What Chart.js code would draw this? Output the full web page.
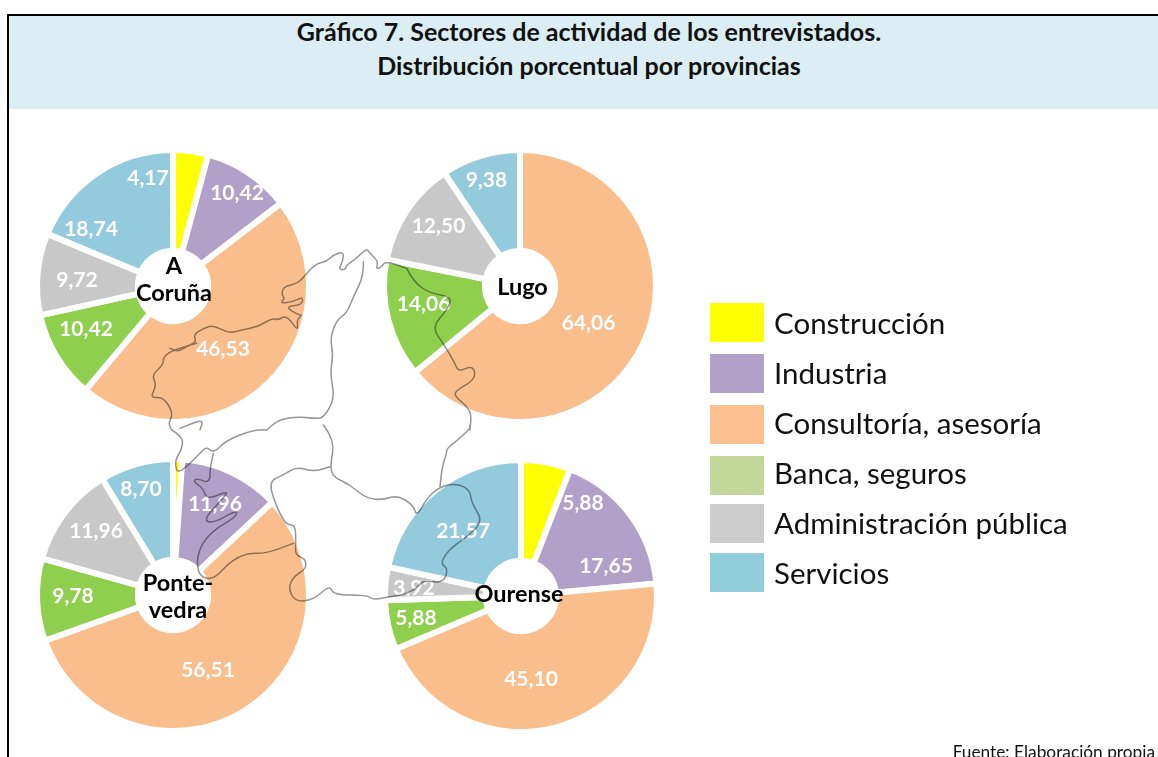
<!DOCTYPE html>
<html lang="es">
<head>
<meta charset="utf-8">
<title>Gráfico 7</title>
<script src="https://cdn.jsdelivr.net/npm/chart.js@4"></script>
<style>
html,body{margin:0;padding:0;background:#fff}
#page{position:relative;width:1158px;height:757px;overflow:hidden;font-family:Lato,sans-serif;background:#fff}
#frameTop{position:absolute;left:7px;top:14px;right:0;height:2px;background:#000}
#frameLeft{position:absolute;left:7px;top:14px;bottom:0;width:2px;background:#000}
#band{position:absolute;left:9px;top:16px;right:0;height:93px;background:#DAEEF3}
#title{position:absolute;left:9px;width:1160px;top:14px;text-align:center;font-weight:700;font-size:25px;line-height:34px;color:#111;white-space:nowrap}
canvas{position:absolute}
#map{position:absolute;left:0;top:0;mix-blend-mode:multiply;pointer-events:none}
.sw{position:absolute;left:710px;width:54px;height:39px}
.lg{position:absolute;left:774px;font-size:29.5px;line-height:40px;color:#111;white-space:nowrap}
#src{position:absolute;right:3px;top:743px;font-size:17.3px;line-height:18px;color:#111;white-space:nowrap}
</style>
</head>
<body>
<div id="page">
  <div id="band"></div><div id="frameTop"></div><div id="frameLeft"></div>
  <div id="title">Gráfico 7. Sectores de actividad de los entrevistados.<br>Distribución porcentual por provincias</div>
  <canvas id="c0" width="300" height="300" style="left:23px;top:135.5px"></canvas>
  <canvas id="c1" width="300" height="300" style="left:369.5px;top:136px"></canvas>
  <canvas id="c2" width="300" height="300" style="left:23px;top:444.5px"></canvas>
  <canvas id="c3" width="300" height="300" style="left:370.5px;top:445.5px"></canvas>
  <svg id="map" width="1158" height="757" fill="none" stroke="#969696" stroke-width="1.5" stroke-linejoin="round" stroke-linecap="round"></svg>
  <div id="legend"></div>
  <div id="src">Fuente: Elaboración propia</div>
</div>
<script>
const categories = ['Construcción','Industria','Consultoría, asesoría','Banca, seguros','Administración pública','Servicios'];
const provinces = [['A','Coruña'],['Lugo'],['Ponte-','vedra'],['Ourense']];
const coruna     = [4.17,10.42,46.53,10.42,9.72,18.74];
const lugo       = [0,0,64.06,14.06,12.50,9.38];
const pontevedra = [1.09,11.96,56.51,9.78,11.96,8.70];
const ourense    = [5.88,17.65,45.10,5.88,3.92,21.57];
const series = [coruna,lugo,pontevedra,ourense];

const sliceColors  = ['#FFFF00','#B1A0C7','#F9BE8C','#8FCF4E','#C8C8C8','#93CBDD'];
const legendColors = ['#FFFF00','#B1A0C7','#FAC090','#C4D79B','#CCCCCC','#92CDDC'];
const legendTops   = [303,354,405,456,504,552.5];
const legendMid    = [323,373,423,473,523,573];

// Label placement in the source is hand-set, so each is an offset from the ring's centre.
const labelOffsets = [
  [[-25,-108],[64,-93],[50,63],[-87,43],[-96,-6],[-82,-57]],
  [null,null,[68.5,37],[-96.5,18],[-81.5,-60],[-33.5,-106]],
  [null,[42,-91],[35,75],[-100,1],[-77,-64],[-32,-106]],
  [[62,-93],[85,-30],[10,83],[-105,22],[-107,-8],[-58,-65]]
];
const centerOffsets = [[1,-6],[2.5,1],[5,2],[-2,-1.5]];
const fmt = v => v.toFixed(2).replace('.',',');

// Decorative map of Galicia over the rings: a traced outline, not chart data.
const mapParts = [
  {t:[170,240],lines:[
    [710,85,730,125,780,160,845,170,835,205,785,262,820,310,855,370,865,395,905,378,917,400,905,425,860,450,852,468,905,510,900,570],
    [710,85,650,60,630,85,618,85,625,65,600,40,590,25,560,55,530,75,525,90,505,88,520,60,520,35,490,45,470,65,440,70,410,100,385,130,340,140,335,165,345,175,330,190,370,185,400,170,395,195,345,200,385,225,397,225,380,240,385,275,350,225,325,240,305,235,265,260,215,270,175,280,130,255,100,265,70,285,80,305,50,320,25,335,0,325],
    [580,65,582,105,550,170,530,220,500,240,480,295,490,345,480,400,495,475,460,535,430,535,380,530,325,540,290,570]
  ]},
  {t:[0,130],lines:[
    [590,640,520,660,490,680,490,705,455,735,470,765,450,805,490,800,520,850,505,880,515,900],
    [540,895,575,880,610,870,600,900]
  ]},
  {t:[0,430],lines:[
    [515,0,550,20,545,60,525,90,530,130,560,110,600,70,620,50,640,70,680,30,760,0,800,0],
    [640,70,630,110,630,160,590,145,580,155,610,175,620,210,690,180,660,215,610,270,640,280,710,240,710,260,640,300,600,350,590,400,600,440,640,450,690,395,740,370,800,370,880,340]
  ]},
  {t:[170,425],lines:[
    [460,0,495,45,480,125,490,155,530,175,545,185,590,220,640,225,680,210,730,240,740,275,770,220,810,185,860,175,900,195,905,235,940,290,885,340,840,370,810,415,835,430,820,475,760,465,740,490,700,510,660,515,610,525,590,510,490,510,480,480,430,525,375,530,355,490,370,455,410,430,405,400,375,390,378,345,375,300,355,300,340,285,320,245,295,170,340,150,380,125,430,140,480,125],
    [810,185,815,130,830,85,830,70,870,40,900,10,900,0]
  ]}
];
const svg = document.getElementById('map');
mapParts.forEach(part=>{
  part.lines.forEach(a=>{
    const P=[];for(let i=0;i<a.length;i+=2)P.push([part.t[0]+a[i]/3,part.t[1]+a[i+1]/3]);
    let d='M'+P[0][0]+' '+P[0][1];
    for(let i=1;i<P.length-1;i++){
      const mx=(P[i][0]+P[i+1][0])/2,my=(P[i][1]+P[i+1][1])/2;
      d+=' Q'+P[i][0]+' '+P[i][1]+' '+mx+' '+my;
    }
    d+=' L'+P[P.length-1][0]+' '+P[P.length-1][1];
    const p=document.createElementNS('http://www.w3.org/2000/svg','path');
    p.setAttribute('d',d);svg.appendChild(p);
  });
});

const ringText = {
  id:'ringText',
  afterDraw(chart){
    const i = chart.options.plugins.ringText.index, c = chart.ctx;
    const cx = chart.width/2, cy = chart.height/2;
    c.save();
    c.textAlign='center'; c.textBaseline='middle';
    c.font='700 21px Lato'; c.fillStyle='#fff';
    series[i].forEach((v,k)=>{
      const o = labelOffsets[i][k];
      if(o) c.fillText(fmt(v),cx+o[0],cy+o[1]);
    });
    c.font='700 23.5px Lato'; c.fillStyle='#000';
    const lines = provinces[i], co = centerOffsets[i];
    lines.forEach((t,n)=>c.fillText(t,cx+co[0],cy+co[1]+(n-(lines.length-1)/2)*26.5));
    c.restore();
  }
};

series.forEach((vals,i)=>{
  new Chart(document.getElementById('c'+i),{
    type:'doughnut',
    data:{labels:categories,datasets:[{data:vals,backgroundColor:sliceColors,borderColor:'#fff',borderWidth:6}]},
    options:{
      responsive:false,animation:false,radius:136,cutout:38,
      layout:{padding:0},
      plugins:{legend:{display:false},tooltip:{enabled:false},ringText:{index:i}}
    },
    plugins:[ringText]
  });
});

const lg = document.getElementById('legend');
categories.forEach((t,k)=>{
  const s=document.createElement('div');s.className='sw';s.style.top=legendTops[k]+'px';s.style.background=legendColors[k];lg.appendChild(s);
  const d=document.createElement('div');d.className='lg';d.style.top=(legendMid[k]-20)+'px';d.textContent=t;lg.appendChild(d);
});
</script>
</body>
</html>
